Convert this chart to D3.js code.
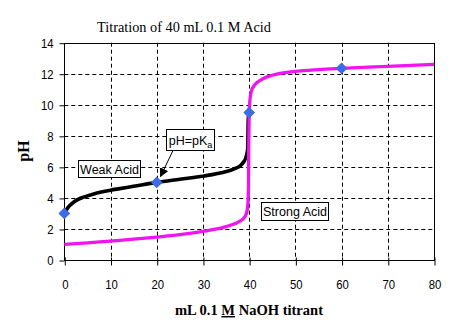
<!DOCTYPE html>
<html><head><meta charset="utf-8">
<script src="https://cdn.jsdelivr.net/npm/d3@7"></script>
<style>html,body{margin:0;padding:0;background:#fff;}svg{display:block;}</style>
</head><body>
<svg id="chart" width="458" height="336"></svg>
<script>
// Data
const weakX  = [0, 0.5, 1, 2, 3, 4, 6, 8, 10, 12, 15, 20, 25, 28, 30, 32, 34, 36, 37, 38, 38.5, 39, 39.3, 39.55, 39.7, 39.75, 39.8, 40];
const weakPH = [3.0, 3.25, 3.45, 3.72, 3.9, 4.03, 4.22, 4.38, 4.5, 4.6, 4.75, 5.0, 5.2, 5.32, 5.4, 5.5, 5.62, 5.78, 5.9, 6.05, 6.2, 6.4, 6.6, 6.9, 7.2, 8.0, 9.0, 9.5];
const strongX  = [0, 5, 10, 15, 20, 25, 30, 33, 35, 37, 38, 38.7, 39.2, 39.5, 39.7, 39.85, 39.9, 40, 40.2, 40.5, 41, 42, 43, 45, 50, 55, 60, 70, 80];
const strongPH = [1.0, 1.1, 1.22, 1.34, 1.48, 1.64, 1.85, 2.0, 2.15, 2.35, 2.5, 2.65, 2.85, 3.1, 3.5, 4.5, 7.0, 9.5, 10.4, 10.9, 11.2, 11.5, 11.68, 11.9, 12.15, 12.27, 12.35, 12.48, 12.6];
const markerX  = [0, 20, 40, 60];
const markerPH = [3.0, 5.0, 9.5, 12.35];
const xTicks = [0, 10, 20, 30, 40, 50, 60, 70, 80];
const yTicks = [0, 2, 4, 6, 8, 10, 12, 14];
const titleText = "Titration of 40 mL 0.1 M Acid";
const yLabel = "pH";

const svg = d3.select("#chart");
const L = 64.3, R = 434, T = 42.7, B = 260;
const x = d3.scaleLinear().domain([0, 80]).range([L, R]);
const y = d3.scaleLinear().domain([0, 14]).range([B, T]);

// grid
const g = svg.append("g");
g.selectAll(".vg").data(xTicks.slice(1, -1)).join("line")
  .attr("x1", d => Math.round(x(d)) + 0.5).attr("x2", d => Math.round(x(d)) + 0.5)
  .attr("y1", T).attr("y2", B)
  .attr("stroke", "#000").attr("stroke-width", 1).attr("stroke-dasharray", "4,3");
g.selectAll(".hg").data(yTicks.slice(1, -1)).join("line")
  .attr("y1", d => Math.round(y(d)) + 0.5).attr("y2", d => Math.round(y(d)) + 0.5)
  .attr("x1", L).attr("x2", R)
  .attr("stroke", "#000").attr("stroke-width", 1).attr("stroke-dasharray", "4,3");

// plot frame
svg.append("rect").attr("x", Math.round(L) + 0.5).attr("y", Math.round(T) + 0.5)
  .attr("width", Math.round(R) - Math.round(L)).attr("height", Math.round(B) - Math.round(T))
  .attr("fill", "none").attr("stroke", "#000").attr("stroke-width", 1);

// axes
const yAxis = d3.axisLeft(y).tickValues(yTicks).tickSize(5).tickPadding(6);
const ya = svg.append("g").attr("transform", `translate(${Math.round(L) + 0.5},0.5)`).call(yAxis);
ya.select(".domain").remove();
ya.selectAll("text").attr("font-family", "'Liberation Sans', Arial, sans-serif").attr("font-size", 13.5)
  .attr("fill", "#000").attr("textLength", d => String(d).length * 6.3).attr("lengthAdjust", "spacingAndGlyphs");

const xAxis = d3.axisBottom(x).tickValues(xTicks).tickSize(5).tickPadding(14);
const xa = svg.append("g").attr("transform", `translate(0.5,${Math.round(B) + 0.5})`).call(xAxis);
xa.select(".domain").remove();
xa.selectAll(".tick line").attr("y1", -3);
xa.selectAll("text").attr("font-family", "'Liberation Sans', Arial, sans-serif").attr("font-size", 13.5)
  .attr("fill", "#000").attr("textLength", d => String(d).length * 6.3).attr("lengthAdjust", "spacingAndGlyphs");

// curves
const line = d3.line().x(d => x(d[0])).y(d => y(d[1])).curve(d3.curveMonotoneX);
svg.append("path").datum(weakX.map((v, i) => [v, weakPH[i]]))
  .attr("d", line).attr("fill", "none").attr("stroke", "#000").attr("stroke-width", 3.6).attr("stroke-linejoin", "round");
svg.append("path").datum(strongX.map((v, i) => [v, strongPH[i]]))
  .attr("d", line).attr("fill", "none").attr("stroke", "#f014f0").attr("stroke-width", 3.3).attr("stroke-linejoin", "round");

// markers
const sym = d3.symbol().type(d3.symbolDiamond2).size(88);
svg.selectAll(".mk").data(markerX.map((v, i) => [v, markerPH[i]])).join("path")
  .attr("transform", d => `translate(${x(d[0])},${y(d[1])})`)
  .attr("d", sym).attr("fill", "#3d6ae6");

// annotation boxes
function box(x0, y0, w, h, parts) {
  svg.append("rect").attr("x", x0 + 0.5).attr("y", y0 + 0.5).attr("width", w).attr("height", h)
    .attr("fill", "#fff").attr("stroke", "#000").attr("stroke-width", 1);
  const t = svg.append("text").attr("x", x0 + w / 2 + 0.5).attr("y", y0 + h / 2 + 5)
    .attr("text-anchor", "middle").attr("font-family", "'Liberation Sans', Arial, sans-serif")
    .attr("font-size", 12.5).attr("fill", "#000");
  parts.forEach(p => {
    const s = t.append("tspan").text(p.t);
    if (p.sub) s.attr("font-size", 9).attr("dy", 3);
  });
}
box(78, 160, 62, 17, [{t: "Weak Acid"}]);
box(261, 202, 67, 18, [{t: "Strong Acid"}]);
box(166, 129, 48, 21, [{t: "pH=pK"}, {t: "a", sub: true}]);

// arrow
svg.append("defs").append("marker").attr("id", "ah").attr("viewBox", "0 0 10 10")
  .attr("refX", 9).attr("refY", 5).attr("markerWidth", 9).attr("markerHeight", 9)
  .attr("markerUnits", "userSpaceOnUse").attr("orient", "auto")
  .append("path").attr("d", "M0,0 L10,5 L0,10 z").attr("fill", "#000");
svg.append("line").attr("x1", 173).attr("y1", 150.5).attr("x2", 160.5).attr("y2", 176.5)
  .attr("stroke", "#000").attr("stroke-width", 1).attr("marker-end", "url(#ah)");

// title
svg.append("text").attr("x", 97).attr("y", 32.3)
  .attr("font-family", "'Liberation Serif', 'Times New Roman', serif").attr("font-size", 15)
  .attr("textLength", 174).attr("lengthAdjust", "spacingAndGlyphs").attr("fill", "#000").text(titleText);

// y label
svg.append("text").attr("transform", "translate(29,151) rotate(-90)").attr("text-anchor", "middle")
  .attr("font-family", "'Liberation Serif', 'Times New Roman', serif").attr("font-size", 16)
  .attr("font-weight", "bold").attr("fill", "#000").text(yLabel);

// x label with underlined M
const xl = svg.append("text").attr("x", 175).attr("y", 315)
  .attr("font-family", "'Liberation Serif', 'Times New Roman', serif").attr("font-size", 14.5)
  .attr("font-weight", "bold").attr("fill", "#000")
  .attr("textLength", 148).attr("lengthAdjust", "spacingAndGlyphs");
xl.append("tspan").text("mL 0.1 ");
xl.append("tspan").attr("text-decoration", "underline").text("M");
xl.append("tspan").text(" NaOH titrant");
</script>
</body></html>
